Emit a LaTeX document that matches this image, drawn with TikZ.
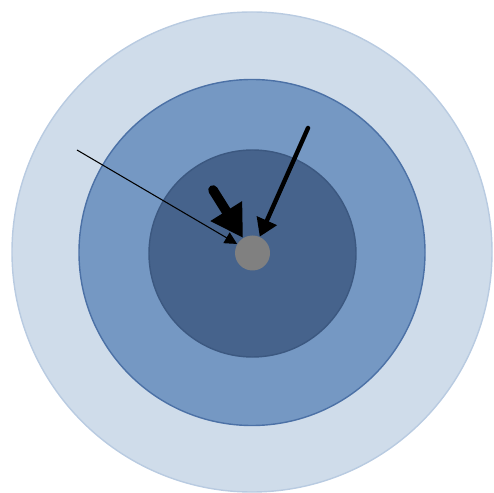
\documentclass[tikz,border=0pt]{standalone}
\usepackage{tikz}
\usetikzlibrary{arrows.meta,positioning}
\definecolor{ringout}{HTML}{CFDCEA}
\definecolor{ringoutline}{HTML}{B9CBE1}
\definecolor{ringmid}{HTML}{7598C3}
\definecolor{ringmidline}{HTML}{4C71A6}
\definecolor{ringin}{HTML}{46638C}
\definecolor{ringinline}{HTML}{3C5880}
\definecolor{coregray}{HTML}{808080}
\tikzset{
  ring/.style={circle, inner sep=0pt, line width=0.8pt},
  pushthin/.style={line width=0.6pt, -{Triangle[length=7pt,width=7pt]}},
  pushthick/.style={line width=5.5pt, line cap=round, -{Triangle[length=18pt,width=20pt]}},
  pushmid/.style={line width=2.5pt, line cap=round, -{Triangle[length=10pt,width=12pt]}}
}
\begin{document}
\begin{tikzpicture}[x=0.2mm,y=-0.2mm]
  \useasboundingbox (0,0) rectangle (494,493);
  \node[ring, fill=ringout, draw=ringoutline, minimum size=96mm] (outer) at (252,252) {};
  \node[ring, fill=ringmid, draw=ringmidline, minimum size=69.2mm] (middle) at (252,252.5) {};
  \node[ring, fill=ringin, draw=ringinline, minimum size=41.4mm] (inner) at (252.5,253.5) {};
  \node[circle, fill=coregray, inner sep=0pt, minimum size=7mm] (core) at (252.5,253) {};
  \coordinate (far) at (77,150);
  \coordinate (near) at (213,190);
  \coordinate (high) at (308,128);
  \draw[pushthin] (far) -- (core);
  \draw[pushthick] (near) -- (core);
  \draw[pushmid] (high) -- (core);
\end{tikzpicture}
\end{document}
